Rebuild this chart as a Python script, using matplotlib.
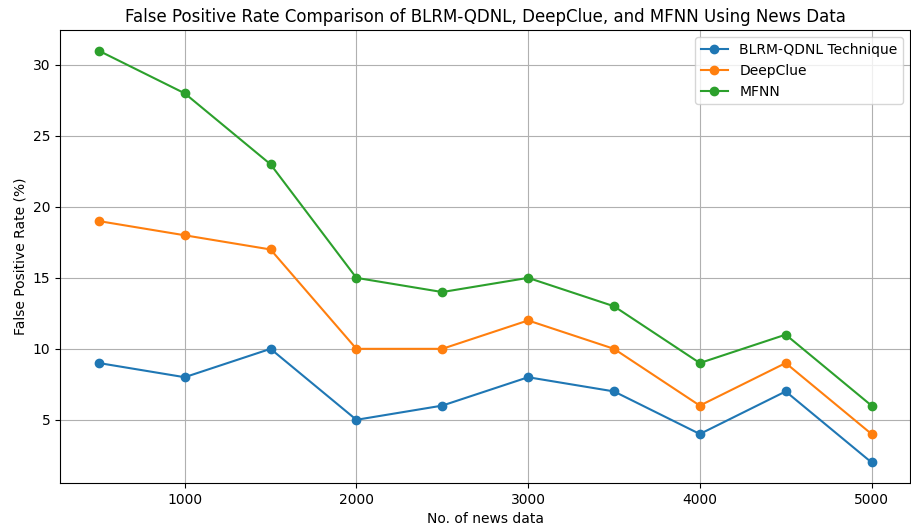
import matplotlib
matplotlib.use("Agg")
import matplotlib.pyplot as plt

news_data = [500, 1000, 1500, 2000, 2500, 3000, 3500, 4000, 4500, 5000]
blrm_qdnl = [9, 8, 10, 5, 6, 8, 7, 4, 7, 2]
deepclue = [19, 18, 17, 10, 10, 12, 10, 6, 9, 4]
mfnn = [31, 28, 23, 15, 14, 15, 13, 9, 11, 6]


def main():
    fig, ax = plt.subplots(figsize=(9.12, 5.29), dpi=100)
    ax.plot(news_data, blrm_qdnl, marker="o", label="BLRM-QDNL Technique")
    ax.plot(news_data, deepclue, marker="o", label="DeepClue")
    ax.plot(news_data, mfnn, marker="o", label="MFNN")
    ax.set_title("False Positive Rate Comparison of BLRM-QDNL, DeepClue, and MFNN Using News Data")
    ax.set_xlabel("No. of news data")
    ax.set_ylabel("False Positive Rate (%)")
    ax.grid(True)
    ax.legend(loc="upper right")
    fig.subplots_adjust(left=0.066, right=0.998, top=0.943, bottom=0.087)
    fig.savefig("out.png")


if __name__ == "__main__":
    main()
